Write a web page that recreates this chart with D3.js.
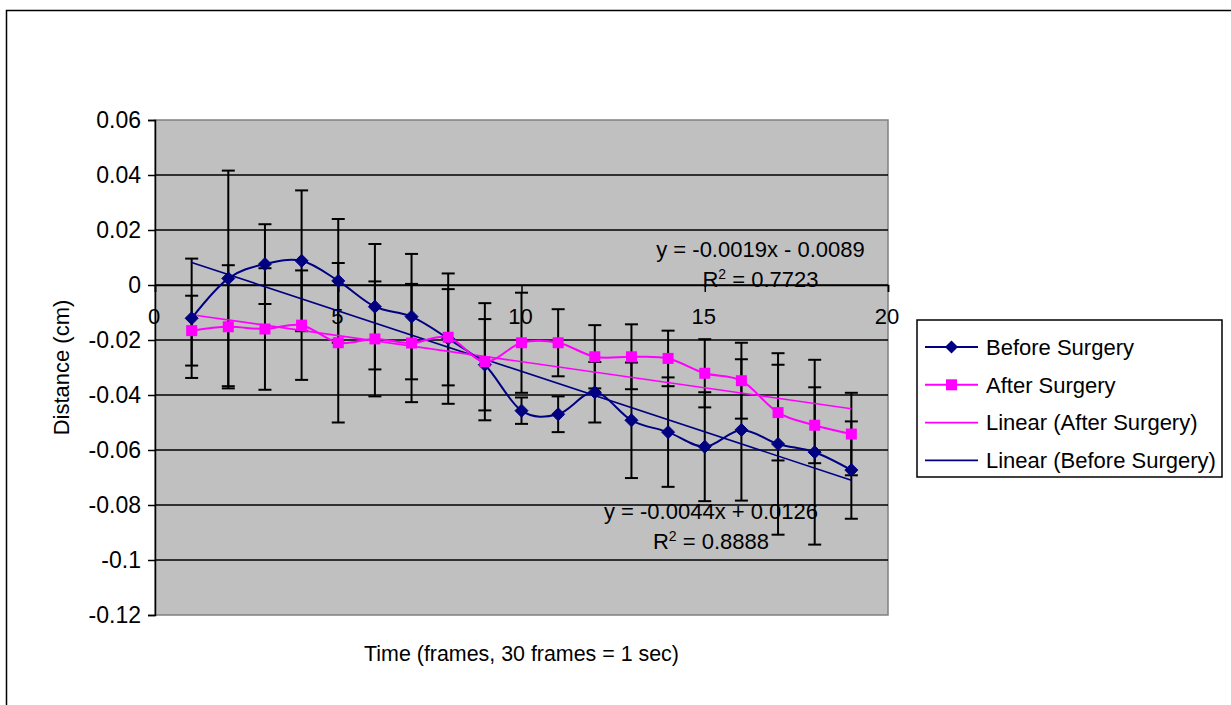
<!DOCTYPE html>
<html><head><meta charset="utf-8">
<script src="https://cdn.jsdelivr.net/npm/d3@7"></script>
<style>
body{margin:0;background:#fff}
svg text{font-family:"Liberation Sans",Arial,sans-serif;fill:#000}
</style>
</head><body>
<svg id="chart" width="1231" height="705"></svg>
<script>
// ---------- data ----------
const frames = [1,2,3,4,5,6,7,8,9,10,11,12,13,14,15,16,17,18,19];
const beforeValues = [-0.0121,0.0024,0.0076,0.0088,0.0015,-0.0079,-0.0115,-0.0195,-0.0290,-0.0457,-0.0470,-0.0390,-0.0492,-0.0535,-0.0588,-0.0527,-0.0578,-0.0608,-0.0673];
const beforeErrors = [0.0217,0.0392,0.0145,0.0256,0.0225,0.0228,0.0228,0.0237,0.0166,0.0048,0.0065,0.0110,0.0210,0.0199,0.0198,0.0257,0.0330,0.0336,0.0177];
const afterValues  = [-0.0166,-0.0152,-0.0160,-0.0146,-0.0210,-0.0196,-0.0211,-0.0190,-0.0279,-0.0210,-0.0210,-0.0261,-0.0261,-0.0267,-0.0321,-0.0348,-0.0464,-0.0510,-0.0542];
const afterErrors  = [0.0127,0.0224,0.0221,0.0199,0.0290,0.0209,0.0215,0.0175,0.0213,0.0182,0.0122,0.0115,0.0118,0.0101,0.0124,0.0138,0.0174,0.0138,0.0150];
const trendSlopes     = [-0.0044, -0.0019];   // before, after
const trendIntercepts = [0.0126, -0.0089];
const trendEquations  = ["y = -0.0044x + 0.0126", "y = -0.0019x - 0.0089"];
const trendR2         = ["0.8888", "0.7723"];
const yTickValues = [0.06,0.04,0.02,0,-0.02,-0.04,-0.06,-0.08,-0.1,-0.12];
const yTickLabels = ["0.06","0.04","0.02","0","-0.02","-0.04","-0.06","-0.08","-0.1","-0.12"];
const xTickValues = [0,5,10,15,20];
const xTickLabels = ["0","5","10","15","20"];
const legendLabels = ["Before Surgery","After Surgery","Linear (After Surgery)","Linear (Before Surgery)"];
const axisTitles = ["Time (frames, 30 frames = 1 sec)", "Distance (cm)"];

// ---------- layout ----------
const NAVY = "#000080", MAG = "#FF00FF";
const FS = 22;
const svg = d3.select("#chart");
const L = 155, R = 888, T = 120, B = 615;
const x = d3.scaleLinear().domain([0,20]).range([L,R]);
const y = d3.scaleLinear().domain([-0.12,0.06]).range([B,T]);

// outer border
svg.append("rect").attr("x",6.5).attr("y",10.5).attr("width",1240).attr("height",720)
  .attr("fill","none").attr("stroke","#000").attr("stroke-width",1.5);

// plot area
svg.append("rect").attr("x",L).attr("y",T).attr("width",R-L).attr("height",B-T)
  .attr("fill","#C0C0C0").attr("stroke","#808080").attr("stroke-width",1.5);

// gridlines
svg.append("g").selectAll("line").data(yTickValues.filter(v => v < 0.059 && v > -0.119)).join("line")
  .attr("x1",L).attr("x2",R).attr("y1",d=>y(d)).attr("y2",d=>y(d))
  .attr("stroke","#000").attr("stroke-width",1.4);

// y axis
const yAxis = d3.axisLeft(y).tickValues(yTickValues)
  .tickFormat((d,i)=>yTickLabels[i]).tickSize(7).tickPadding(7);
const gy = svg.append("g").attr("transform",`translate(${L},0)`).call(yAxis);
gy.select(".domain").attr("stroke","#000").attr("stroke-width",1.5);
gy.selectAll(".tick line").attr("stroke","#000").attr("stroke-width",1.5);
gy.selectAll(".tick text").style("font-size","23px").attr("font-family",null);

// x axis (crosses at y = 0)
const xAxis = d3.axisBottom(x).tickValues(xTickValues)
  .tickFormat((d,i)=>xTickLabels[i]).tickSize(7).tickPadding(16);
const gx = svg.append("g").attr("transform",`translate(0,${y(0)})`).call(xAxis);
gx.select(".domain").attr("stroke","#000").attr("stroke-width",1.5);
gx.selectAll(".tick line").attr("stroke","#000").attr("stroke-width",1.5);
gx.selectAll(".tick text").style("font-size",FS+"px").attr("font-family",null).attr("dx",-1.5);

// error bars
function errorBars(vals, errs){
  const g = svg.append("g").attr("stroke","#000").attr("stroke-width",2);
  const cw = 6.5;
  frames.forEach((f,i)=>{
    const cx = x(f), y1 = y(vals[i]+errs[i]), y2 = y(vals[i]-errs[i]);
    g.append("line").attr("x1",cx).attr("x2",cx).attr("y1",y1).attr("y2",y2);
    g.append("line").attr("x1",cx-cw).attr("x2",cx+cw).attr("y1",y1).attr("y2",y1);
    g.append("line").attr("x1",cx-cw).attr("x2",cx+cw).attr("y1",y2).attr("y2",y2);
  });
}
errorBars(beforeValues, beforeErrors);
errorBars(afterValues, afterErrors);

// trendlines
const trendColors = [NAVY, MAG];
trendSlopes.forEach((s,k)=>{
  const x0 = frames[0], x1 = frames[frames.length-1];
  svg.append("line").attr("x1",x(x0)).attr("x2",x(x1))
    .attr("y1",y(s*x0+trendIntercepts[k])).attr("y2",y(s*x1+trendIntercepts[k]))
    .attr("stroke",trendColors[k]).attr("stroke-width",1.6);
});

// series lines (smoothed)
const line = d3.line().x(d=>x(d[0])).y(d=>y(d[1])).curve(d3.curveCardinal.tension(0));
svg.append("path").datum(frames.map((f,i)=>[f,beforeValues[i]])).attr("d",line)
  .attr("fill","none").attr("stroke",NAVY).attr("stroke-width",2);
svg.append("path").datum(frames.map((f,i)=>[f,afterValues[i]])).attr("d",line)
  .attr("fill","none").attr("stroke",MAG).attr("stroke-width",2);

// markers
const diamond = (cx,cy,r)=>`M${cx},${cy-r}L${cx+r},${cy}L${cx},${cy+r}L${cx-r},${cy}Z`;
svg.append("g").selectAll("path").data(frames).join("path")
  .attr("d",(f,i)=>diamond(x(f),y(beforeValues[i]),6.5)).attr("fill",NAVY).attr("stroke",NAVY);
svg.append("g").selectAll("rect").data(frames).join("rect")
  .attr("x",(f)=>x(f)-5.5).attr("y",(f,i)=>y(afterValues[i])-5.5)
  .attr("width",11).attr("height",11).attr("fill",MAG);

// trendline equation labels
function eqLabel(cx, yb, k){
  svg.append("text").attr("x",cx).attr("y",yb).attr("text-anchor","middle")
    .style("font-size",FS+"px").text(trendEquations[k]);
  const t = svg.append("text").attr("x",cx).attr("y",yb+30).attr("text-anchor","middle")
    .style("font-size",FS+"px");
  t.append("tspan").text("R");
  t.append("tspan").attr("dy",-8).style("font-size","14px").text("2");
  t.append("tspan").attr("dy",8).text(" = "+trendR2[k]);
}
eqLabel(760.5, 257, 1);
eqLabel(711, 519, 0);

// axis titles
svg.append("text").attr("x",(L+R)/2).attr("y",661).attr("text-anchor","middle")
  .style("font-size","21.4px").text(axisTitles[0]);
svg.append("text").attr("transform",`translate(69,${(T+B)/2}) rotate(-90)`)
  .attr("text-anchor","middle").style("font-size",FS+"px").text(axisTitles[1]);

// legend
const lg = svg.append("g");
lg.append("rect").attr("x",917).attr("y",320).attr("width",305).attr("height",157)
  .attr("fill","#fff").attr("stroke","#000").attr("stroke-width",1.5);
const legendColors = [NAVY, MAG, MAG, NAVY];
const legendWidths = [2, 2, 1.6, 1.6];
legendLabels.forEach((lab,i)=>{
  const cy = 347 + i*37.8;
  lg.append("line").attr("x1",925).attr("x2",978).attr("y1",cy).attr("y2",cy)
    .attr("stroke",legendColors[i]).attr("stroke-width",legendWidths[i]);
  if(i===0) lg.append("path").attr("d",diamond(951.5,cy,6.5)).attr("fill",NAVY);
  if(i===1) lg.append("rect").attr("x",946).attr("y",cy-5.5).attr("width",11).attr("height",11).attr("fill",MAG);
  lg.append("text").attr("x",986).attr("y",cy).attr("dy","0.35em")
    .style("font-size",FS+"px").text(lab);
});
</script>
</body></html>
